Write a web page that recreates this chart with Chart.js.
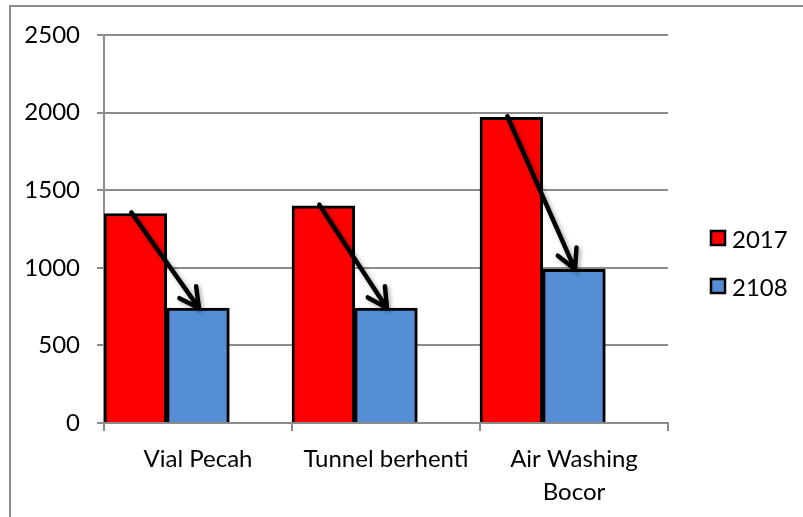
<!DOCTYPE html>
<html>
<head>
<meta charset="utf-8">
<script src="https://cdn.jsdelivr.net/npm/chart.js@4.4.1/dist/chart.umd.min.js"></script>
<style>
  html, body { margin: 0; padding: 0; background: #ffffff; }
  #wrap { width: 803px; height: 517px; position: relative; }
</style>
</head>
<body>
<div id="wrap"><canvas id="chart" width="803" height="517"></canvas></div>
<script>
// Categories and yearly counts
const categories = ["Vial Pecah", "Tunnel berhenti", ["Air Washing", "Bocor"]];
const values2017 = [1350, 1400, 1970];
const values2108 = [740, 740, 990];
// Empty third slot in each group (keeps the pair of bars on the left of each category)
const emptySlot = [null, null, null];
const yTicks = [0, 500, 1000, 1500, 2000, 2500];

const FONT = "Lato, 'Open Sans', sans-serif";
const GRID = "#8c8c8c";

// Gray frame around the whole chart
const framePlugin = {
  id: "frame",
  beforeDraw(chart) {
    const ctx = chart.ctx;
    ctx.save();
    ctx.strokeStyle = GRID;
    ctx.lineWidth = 2;
    ctx.strokeRect(10, 6, chart.width + 10, chart.height + 10);
    ctx.restore();
  }
};

// Arrows from each 2017 bar top down to the matching 2108 bar top
const arrowPlugin = {
  id: "arrows",
  afterDatasetsDraw(chart) {
    const ctx = chart.ctx;
    const a = chart.getDatasetMeta(0).data;
    const b = chart.getDatasetMeta(1).data;
    ctx.save();
    ctx.strokeStyle = "#000000";
    ctx.lineWidth = 4.5;
    ctx.lineCap = "round";
    ctx.lineJoin = "round";
    ctx.shadowColor = "rgba(0,0,0,0.35)";
    ctx.shadowBlur = 4;
    ctx.shadowOffsetX = 2;
    ctx.shadowOffsetY = 2;
    for (let i = 0; i < a.length; i++) {
      const x0 = a[i].x - 4, y0 = a[i].y - 1;
      const x1 = b[i].x + 1, y1 = b[i].y;
      const ang = Math.atan2(y1 - y0, x1 - x0);
      const len = 22, spread = Math.PI / 6.5;
      ctx.beginPath();
      ctx.moveTo(x0, y0);
      ctx.lineTo(x1, y1);
      ctx.moveTo(x1 - len * Math.cos(ang - spread), y1 - len * Math.sin(ang - spread));
      ctx.lineTo(x1, y1);
      ctx.lineTo(x1 - len * Math.cos(ang + spread), y1 - len * Math.sin(ang + spread));
      ctx.stroke();
    }
    ctx.restore();
  }
};

// Legend on the right, drawn from the two year datasets
const sideLegend = {
  id: "sideLegend",
  afterDraw(chart) {
    const ctx = chart.ctx;
    const items = chart.data.datasets.slice(0, 2);
    ctx.save();
    ctx.font = "24px " + FONT;
    ctx.textBaseline = "middle";
    items.forEach((ds, i) => {
      const cy = 238 + i * 48;
      ctx.fillStyle = ds.backgroundColor;
      ctx.fillRect(711, cy - 7, 14, 14);
      ctx.strokeStyle = "#000000";
      ctx.lineWidth = 2.5;
      ctx.strokeRect(711, cy - 7, 14, 14);
      ctx.fillStyle = "#000000";
      ctx.fillText(ds.label, 732, cy + 2);
    });
    ctx.restore();
  }
};

new Chart(document.getElementById("chart"), {
  type: "bar",
  data: {
    labels: categories,
    datasets: [
      { label: "2017", data: values2017, backgroundColor: "#ff0000", borderColor: "#000000", borderWidth: 3 },
      { label: "2108", data: values2108, backgroundColor: "#558ed5", borderColor: "#000000", borderWidth: 3 },
      { label: "", data: emptySlot, backgroundColor: "rgba(0,0,0,0)", borderWidth: 0 }
    ]
  },
  options: {
    responsive: false,
    animation: false,
    devicePixelRatio: 1,
    layout: { padding: { left: 0, top: 35, right: 135, bottom: 0 } },
    datasets: { bar: { categoryPercentage: 1.0, barPercentage: 1.0 } },
    plugins: {
      legend: { display: false },
      tooltip: { enabled: false },
      title: { display: false }
    },
    scales: {
      x: {
        grid: {
          drawOnChartArea: false,
          drawTicks: true,
          tickLength: 8,
          color: GRID,
          lineWidth: 2,
          offset: true
        },
        border: { color: GRID, width: 2 },
        ticks: {
          color: "#000000",
          font: { family: FONT, size: 24, lineHeight: 1.375 },
          padding: 12,
          maxRotation: 0,
          autoSkip: false
        },
        afterFit(scale) { scale.height = 94; }
      },
      y: {
        min: 0,
        max: 2500,
        afterBuildTicks(scale) { scale.ticks = yTicks.map(v => ({ value: v })); },
        grid: { color: GRID, lineWidth: 2, tickLength: 7 },
        border: { color: GRID, width: 2 },
        ticks: {
          color: "#000000",
          font: { family: FONT, size: 24 },
          padding: 17,
          callback: (v) => String(v)
        },
        afterFit(scale) { scale.width = 104; }
      }
    }
  },
  plugins: [framePlugin, arrowPlugin, sideLegend]
});
</script>
</body>
</html>
